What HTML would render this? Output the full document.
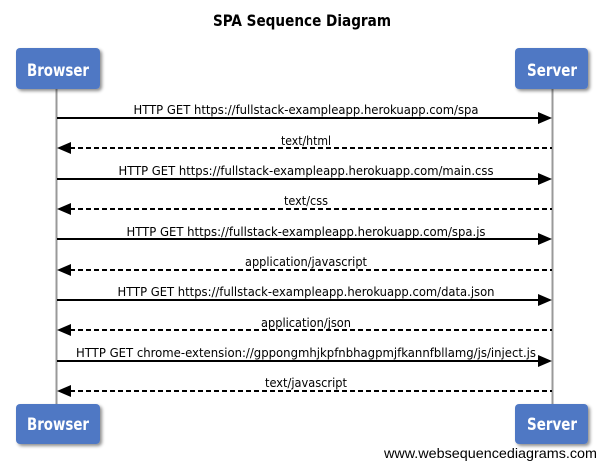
<!DOCTYPE html>
<html><head><meta charset="utf-8"><style>
html,body{margin:0;padding:0;background:#fff;width:604px;height:467px;overflow:hidden}
svg text{font-family:"DejaVu Sans Condensed","DejaVu Sans","Liberation Sans",sans-serif}
</style></head><body>
<svg width="604" height="467" viewBox="0 0 604 467" xmlns="http://www.w3.org/2000/svg">
<defs>
<filter id="sh" x="-20%" y="-20%" width="150%" height="160%"><feDropShadow dx="2" dy="2" stdDeviation="1.5" flood-color="#000" flood-opacity="0.45"/></filter>
</defs>
<text x="302" y="26" text-anchor="middle" font-size="16" font-weight="bold" fill="#000" textLength="178" lengthAdjust="spacingAndGlyphs">SPA Sequence Diagram</text>
<line x1="56.5" y1="89" x2="56.5" y2="404" stroke="#999" stroke-width="2"/>
<line x1="552.5" y1="89" x2="552.5" y2="404" stroke="#999" stroke-width="2"/>
<g filter="url(#sh)" fill="#4f78c4">
<rect x="16" y="48" width="84" height="41" rx="4"/>
<rect x="515" y="48" width="73" height="41" rx="4"/>
<rect x="16" y="404" width="84" height="40" rx="4"/>
<rect x="515" y="404" width="73" height="40" rx="4"/>
</g>
<g fill="#fff" font-size="17" font-weight="bold" text-anchor="middle">
<text x="58" y="76" textLength="62" lengthAdjust="spacingAndGlyphs">Browser</text><text x="552" y="76" textLength="50" lengthAdjust="spacingAndGlyphs">Server</text>
<text x="58" y="430" textLength="62" lengthAdjust="spacingAndGlyphs">Browser</text><text x="552" y="430" textLength="50" lengthAdjust="spacingAndGlyphs">Server</text>
</g>
<g stroke="#000" stroke-width="2">
<line x1="57" y1="118" x2="540" y2="118"/>
<line x1="70" y1="148" x2="552" y2="148" stroke-dasharray="5,3"/>
<line x1="57" y1="179" x2="540" y2="179"/>
<line x1="70" y1="209" x2="552" y2="209" stroke-dasharray="5,3"/>
<line x1="57" y1="239" x2="540" y2="239"/>
<line x1="70" y1="270" x2="552" y2="270" stroke-dasharray="5,3"/>
<line x1="57" y1="300" x2="540" y2="300"/>
<line x1="70" y1="330" x2="552" y2="330" stroke-dasharray="5,3"/>
<line x1="57" y1="361" x2="540" y2="361"/>
<line x1="70" y1="391" x2="552" y2="391" stroke-dasharray="5,3"/>
</g>
<g fill="#000">
<polygon points="552,118 538,112 538,124"/>
<polygon points="57,148 71,142 71,154"/>
<polygon points="552,179 538,173 538,185"/>
<polygon points="57,209 71,203 71,215"/>
<polygon points="552,239 538,233 538,245"/>
<polygon points="57,270 71,264 71,276"/>
<polygon points="552,300 538,294 538,306"/>
<polygon points="57,330 71,324 71,336"/>
<polygon points="552,361 538,355 538,367"/>
<polygon points="57,391 71,385 71,397"/>
</g>
<g font-size="12.5" text-anchor="middle" fill="#000">
<text x="306" y="114" textLength="345" lengthAdjust="spacingAndGlyphs">HTTP GET https://fullstack-exampleapp.herokuapp.com/spa</text>
<text x="306" y="145" textLength="50" lengthAdjust="spacingAndGlyphs">text/html</text>
<text x="306" y="175" textLength="375" lengthAdjust="spacingAndGlyphs">HTTP GET https://fullstack-exampleapp.herokuapp.com/main.css</text>
<text x="306" y="205" textLength="44" lengthAdjust="spacingAndGlyphs">text/css</text>
<text x="306" y="236" textLength="359" lengthAdjust="spacingAndGlyphs">HTTP GET https://fullstack-exampleapp.herokuapp.com/spa.js</text>
<text x="306" y="266" textLength="122" lengthAdjust="spacingAndGlyphs">application/javascript</text>
<text x="306" y="296" textLength="377" lengthAdjust="spacingAndGlyphs">HTTP GET https://fullstack-exampleapp.herokuapp.com/data.json</text>
<text x="306" y="327" textLength="90" lengthAdjust="spacingAndGlyphs">application/json</text>
<text x="306" y="357" textLength="460" lengthAdjust="spacingAndGlyphs">HTTP GET chrome-extension://gppongmhjkpfnbhagpmjfkannfbllamg/js/inject.js</text>
<text x="306" y="387" textLength="82" lengthAdjust="spacingAndGlyphs">text/javascript</text>
</g>
<text x="597" y="458" text-anchor="end" font-size="14" textLength="213" lengthAdjust="spacingAndGlyphs" style="font-family:'Liberation Sans',sans-serif">www.websequencediagrams.com</text>
</svg>
</body></html>
